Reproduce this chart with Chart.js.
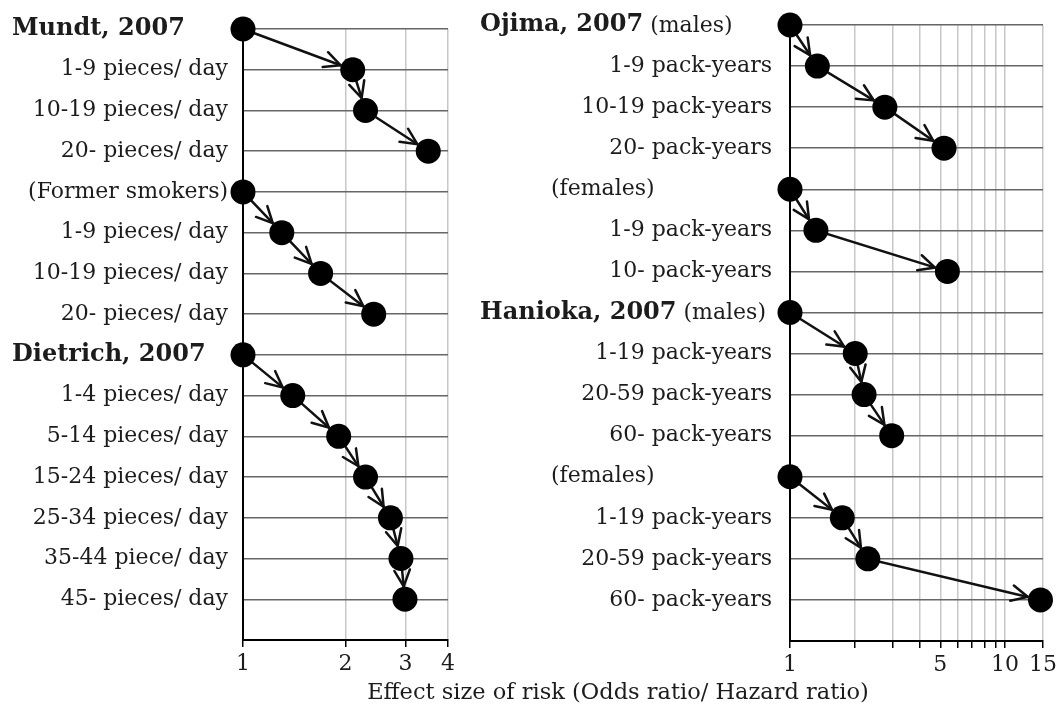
<!DOCTYPE html>
<html>
<head>
<meta charset="utf-8">
<title>Smoking dose and risk</title>
<script src="https://cdn.jsdelivr.net/npm/chart.js@4.4.1/dist/chart.umd.min.js"></script>
<style>
  body { margin: 0; background: #fff; }
  #wrap { position: relative; width: 1062px; height: 712px; overflow: hidden; }
  #leftChart { position: absolute; left: 0; top: 0; }
  #rightChart { position: absolute; left: 470px; top: 0; }
  #caption {
    position: absolute; left: 618px; top: 678px; transform: translateX(-50%);
    white-space: nowrap; font-family: "DejaVu Serif", serif; font-size: 22.5px; color: #1c1c1c;
  }
</style>
</head>
<body>
<div id="wrap">
  <canvas id="leftChart" width="470" height="712"></canvas>
  <canvas id="rightChart" width="592" height="712"></canvas>
  <div id="caption"></div>
</div>
<script>
// rows of each study; the first row is the reference group (OR = 1)
var mundtRows = ["Mundt, 2007", "1-9 pieces/ day", "10-19 pieces/ day", "20- pieces/ day"];
var mundtOR = [1, 2.10, 2.29, 3.50];
var formerRows = ["(Former smokers)", "1-9 pieces/ day", "10-19 pieces/ day", "20- pieces/ day"];
var formerOR = [1, 1.30, 1.69, 2.42];
var dietrichRows = ["Dietrich, 2007", "1-4 pieces/ day", "5-14 pieces/ day", "15-24 pieces/ day",
                    "25-34 pieces/ day", "35-44 piece/ day", "45- pieces/ day"];
var dietrichOR = [1, 1.40, 1.91, 2.29, 2.71, 2.91, 2.99];

var ojimaMaleRows = ["Ojima, 2007 (males)", "1-9 pack-years", "10-19 pack-years", "20- pack-years"];
var ojimaMaleOR = [1, 1.34, 2.76, 5.20];
var ojimaFemaleRows = ["(females)", "1-9 pack-years", "10- pack-years"];
var ojimaFemaleOR = [1, 1.32, 5.39];
var haniokaMaleRows = ["Hanioka, 2007 (males)", "1-19 pack-years", "20-59 pack-years", "60- pack-years"];
var haniokaMaleOR = [1, 2.01, 2.21, 2.97];
var haniokaFemaleRows = ["(females)", "1-19 pack-years", "20-59 pack-years", "60- pack-years"];
var haniokaFemaleOR = [1, 1.75, 2.30, 14.6];

var leftTicks = [1, 2, 3, 4];
var leftTickLabels = [1, 2, 3, 4];
var rightTicks = [1, 2, 3, 4, 5, 6, 7, 8, 9, 10, 15];
var rightTickLabels = [1, 5, 10, 15];
var xTitle = "Effect size of risk (Odds ratio/ Hazard ratio)";

document.getElementById("caption").textContent = xTitle;

var FONT = "DejaVu Serif";
var TEXT = "#1c1c1c";

function isHeader(label, subX) {
  if (/, \d{4}/.test(label)) return true;
  return subX != null && label.charAt(0) === "(";
}

// header rows: bold study name + normal remainder, left aligned
var headerPlugin = {
  id: "headers",
  afterDraw: function(chart) {
    var o = chart.options.plugins.headers;
    var y = chart.scales.y;
    var ctx = chart.ctx;
    ctx.save();
    ctx.fillStyle = TEXT;
    ctx.textBaseline = "middle";
    ctx.textAlign = "left";
    o.rows.forEach(function(label, i) {
      if (!isHeader(label, o.subX)) return;
      var py = y.getPixelForValue(i);
      var m = label.match(/^(.+?, \d{4})(.*)$/);
      if (m) {
        ctx.font = "bold 24px '" + FONT + "'";
        ctx.fillText(m[1], o.headX, py);
        var w = ctx.measureText(m[1]).width;
        ctx.font = "22px '" + FONT + "'";
        ctx.fillText(m[2], o.headX + w, py + 1);
      } else {
        ctx.font = "22px '" + FONT + "'";
        ctx.fillText(label, o.subX, py);
      }
    });
    ctx.restore();
  }
};

// open arrow heads at the edge of each next circle
var arrowPlugin = {
  id: "arrows",
  afterDatasetsDraw: function(chart) {
    var ctx = chart.ctx;
    ctx.save();
    ctx.strokeStyle = "#111";
    ctx.lineWidth = 2.5;
    ctx.lineCap = "round";
    ctx.lineJoin = "miter";
    chart.data.datasets.forEach(function(ds, di) {
      var pts = chart.getDatasetMeta(di).data;
      for (var i = 1; i < pts.length; i++) {
        var a = pts[i - 1], b = pts[i];
        var ang = Math.atan2(b.y - a.y, b.x - a.x);
        var tx = b.x - 13 * Math.cos(ang), ty = b.y - 13 * Math.sin(ang);
        ctx.beginPath();
        ctx.moveTo(tx - 18 * Math.cos(ang - 0.45), ty - 18 * Math.sin(ang - 0.45));
        ctx.lineTo(tx, ty);
        ctx.lineTo(tx - 18 * Math.cos(ang + 0.45), ty - 18 * Math.sin(ang + 0.45));
        ctx.stroke();
      }
    });
    ctx.restore();
  }
};

function makePanel(canvasId, groups, ticks, tickLabels, xMax, opt) {
  var rows = [];
  var datasets = [];
  groups.forEach(function(g) {
    var start = rows.length;
    rows = rows.concat(g[0]);
    datasets.push({
      data: g[1].map(function(v, i) { return { x: v, y: start + i }; }),
      showLine: true,
      borderColor: "#111",
      borderWidth: 2.5,
      pointRadius: 12.5,
      pointBackgroundColor: "#000",
      pointBorderColor: "#000",
      pointBorderWidth: 0,
      clip: false
    });
  });

  return new Chart(document.getElementById(canvasId), {
    type: "scatter",
    data: { datasets: datasets },
    plugins: [headerPlugin, arrowPlugin],
    options: {
      responsive: false,
      animation: false,
      events: [],
      layout: { padding: { top: opt.top, right: opt.right, left: 0, bottom: 0 } },
      plugins: {
        legend: { display: false },
        tooltip: { enabled: false },
        headers: { rows: rows, headX: opt.headX, subX: opt.subX }
      },
      scales: {
        x: {
          type: "logarithmic",
          min: 1,
          max: xMax,
          afterBuildTicks: function(s) { s.ticks = ticks.map(function(v) { return { value: v }; }); },
          afterFit: function(s) { s.height = opt.xHeight; },
          border: { color: "#000", width: 2 },
          grid: { color: "#c8c8c8", lineWidth: 1.5, tickColor: "#000", tickLength: 7 },
          ticks: {
            autoSkip: false, maxRotation: 0, padding: 4, color: TEXT,
            font: { family: FONT, size: 22 },
            callback: function(v) { return tickLabels.indexOf(v) >= 0 ? String(v) : ""; }
          }
        },
        y: {
          type: "linear",
          reverse: true,
          min: 0,
          max: rows.length,
          afterBuildTicks: function(s) {
            var t = [];
            for (var i = 0; i <= rows.length; i++) t.push({ value: i });
            s.ticks = t;
          },
          afterFit: function(s) {
            s.width = opt.yWidth;
            s.paddingTop = 0;
            s.paddingBottom = 0;
          },
          border: { color: "#000", width: 2 },
          grid: { color: "#666", lineWidth: 1.5, drawTicks: false },
          ticks: {
            autoSkip: false, padding: opt.labelPad, color: TEXT,
            font: { family: FONT, size: 22 },
            callback: function(v) {
              var l = rows[Math.round(v)];
              if (l === undefined || isHeader(l, opt.subX)) return "";
              return l;
            }
          }
        }
      }
    }
  });
}

var leftChart = makePanel("leftChart",
  [[mundtRows, mundtOR], [formerRows, formerOR], [dietrichRows, dietrichOR]],
  leftTicks, leftTickLabels, 4,
  { top: 29, right: 22, xHeight: 72, yWidth: 243, labelPad: 15, headX: 12, subX: null });

var rightChart = makePanel("rightChart",
  [[ojimaMaleRows, ojimaMaleOR], [ojimaFemaleRows, ojimaFemaleOR],
   [haniokaMaleRows, haniokaMaleOR], [haniokaFemaleRows, haniokaFemaleOR]],
  rightTicks, rightTickLabels, 15,
  { top: 25, right: 19, xHeight: 71, yWidth: 320, labelPad: 18, headX: 10, subX: 81 });
</script>
</body>
</html>
